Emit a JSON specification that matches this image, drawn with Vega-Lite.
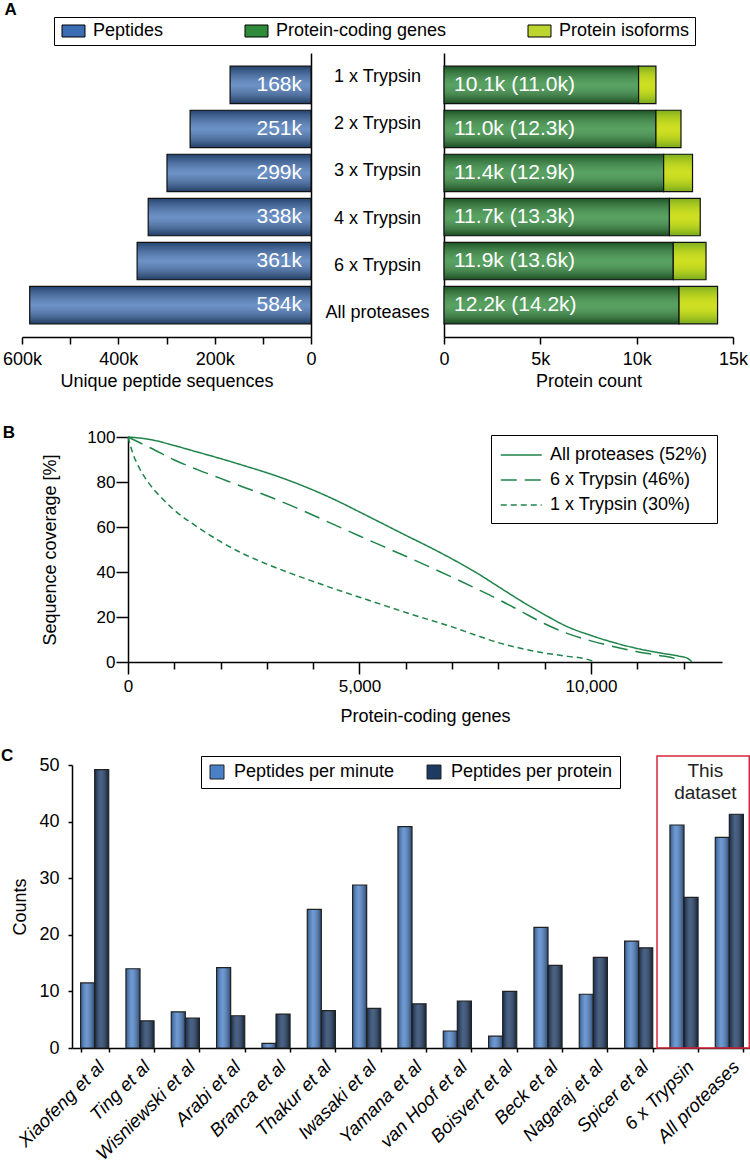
{
  "$schema": "https://vega.github.io/schema/vega-lite/v6.json",
  "padding": {"left": 0, "top": 0, "right": 0, "bottom": 0},
  "background": "white",
  "columns": 1,
  "align": "none",
  "spacing": 34,
  "config": {
    "font": "Liberation Sans",
    "view": {"stroke": null},
    "title": {"fontSize": 17, "fontWeight": "bold", "anchor": "start", "font": "Liberation Sans", "color": "black", "offset": 2},
    "axis": {"domainColor": "black", "tickColor": "black", "labelColor": "black", "titleColor": "black", "labelFont": "Liberation Sans", "titleFont": "Liberation Sans", "labelFontSize": 18, "titleFontSize": 18, "titleFontWeight": "normal", "grid": false, "domainWidth": 1.5, "tickWidth": 1.5, "labelFlush": false},
    "legend": {"labelFont": "Liberation Sans", "labelColor": "black", "labelFontSize": 18, "labelLimit": 400}
  },
  "resolve": {"scale": {"color": "independent", "strokeDash": "independent"}, "legend": {"color": "independent", "strokeDash": "independent"}},
  "concat": [
    {
      "title": {"text": "A", "dx": 2, "dy": 4},
      "data": {"values": [
        {"cat": "1 x Trypsin", "peptides": 168000, "genes": 10100, "total": 11000, "pl": "168k", "gl": "10.1k (11.0k)"},
        {"cat": "2 x Trypsin", "peptides": 251000, "genes": 11000, "total": 12300, "pl": "251k", "gl": "11.0k (12.3k)"},
        {"cat": "3 x Trypsin", "peptides": 299000, "genes": 11400, "total": 12900, "pl": "299k", "gl": "11.4k (12.9k)"},
        {"cat": "4 x Trypsin", "peptides": 338000, "genes": 11700, "total": 13300, "pl": "338k", "gl": "11.7k (13.3k)"},
        {"cat": "6 x Trypsin", "peptides": 361000, "genes": 11900, "total": 13600, "pl": "361k", "gl": "11.9k (13.6k)"},
        {"cat": "All proteases", "peptides": 584000, "genes": 12200, "total": 14200, "pl": "584k", "gl": "12.2k (14.2k)"}
      ]},
      "spacing": 0,
      "bounds": "flush",
      "resolve": {"scale": {"color": "independent"}, "legend": {"color": "independent"}},
      "hconcat": [
        {
          "width": 289,
          "height": 284,
          "encoding": {
            "y": {"field": "cat", "type": "nominal", "sort": null, "scale": {"paddingInner": 0.15, "paddingOuter": 0.3}, "axis": {"orient": "right", "labels": false, "ticks": false, "title": null}},
            "x": {"field": "peptides", "type": "quantitative", "scale": {"domain": [0, 600000], "reverse": true, "nice": false},
                  "axis": {"values": [0, 100000, 200000, 300000, 400000, 500000, 600000], "labelExpr": "datum.value % 200000 === 0 ? (datum.value === 0 ? '0' : (datum.value / 1000) + 'k') : ''", "title": "Unique peptide sequences", "tickSize": 7, "labelPadding": 6, "titlePadding": 4}}
          },
          "layer": [
            {
              "mark": {"type": "bar"},
              "encoding": {
                "color": {"datum": "Peptides", "type": "nominal",
                  "scale": {"domain": ["Peptides", "Protein-coding genes", "Protein isoforms"], "range": ["#3b6db4", "#2e8b3a", "#bcd52f"]},
                  "legend": {"orient": "none", "legendX": 32, "legendY": -36, "direction": "horizontal", "columns": 3, "title": null, "strokeColor": "black", "padding": 5, "columnPadding": 78, "labelOffset": 16, "symbolType": "M-1,-1H2.833V1H-1Z", "symbolSize": 144, "symbolStrokeColor": "black", "symbolStrokeWidth": 1, "symbolOpacity": 1}}
              }
            },
            {
              "mark": {"type": "bar", "fill": {"gradient": "linear", "x1": 0, "y1": 0, "x2": 0, "y2": 1, "stops": [{"offset": 0, "color": "rgba(0,0,0,0.4)"}, {"offset": 0.5, "color": "rgba(255,255,255,0.25)"}, {"offset": 1, "color": "rgba(0,0,0,0.45)"}]}, "stroke": "#111111", "strokeWidth": 1.2}
            },
            {
              "mark": {"type": "text", "align": "right", "baseline": "middle", "dx": -9, "color": "white", "fontSize": 21},
              "encoding": {"x": {"datum": 0, "type": "quantitative"}, "text": {"field": "pl"}}
            }
          ]
        },
        {
          "width": 133,
          "height": 284,
          "mark": {"type": "text", "fontSize": 18, "color": "black", "baseline": "middle"},
          "encoding": {
            "y": {"field": "cat", "type": "nominal", "sort": null, "scale": {"paddingInner": 0.15, "paddingOuter": 0.3}, "axis": null},
            "text": {"field": "cat"}
          }
        },
        {
          "width": 289,
          "height": 284,
          "encoding": {
            "y": {"field": "cat", "type": "nominal", "sort": null, "scale": {"paddingInner": 0.15, "paddingOuter": 0.3}, "axis": {"orient": "left", "labels": false, "ticks": false, "title": null}}
          },
          "layer": [
            {
              "mark": {"type": "bar", "color": "#2e8b3a"},
              "encoding": {"x": {"field": "genes", "type": "quantitative", "scale": {"domain": [0, 15000], "nice": false},
                "axis": {"values": [0, 5000, 10000, 15000], "labelExpr": "datum.value === 0 ? '0' : (datum.value / 1000) + 'k'", "title": "Protein count", "tickSize": 7, "labelPadding": 6, "titlePadding": 4}}}
            },
            {
              "mark": {"type": "bar", "fill": {"gradient": "linear", "x1": 0, "y1": 0, "x2": 0, "y2": 1, "stops": [{"offset": 0, "color": "rgba(0,0,0,0.4)"}, {"offset": 0.5, "color": "rgba(255,255,255,0.2)"}, {"offset": 1, "color": "rgba(0,0,0,0.45)"}]}, "stroke": "#111111", "strokeWidth": 1.2},
              "encoding": {"x": {"field": "genes", "type": "quantitative"}}
            },
            {
              "mark": {"type": "bar", "color": "#c6da2a"},
              "encoding": {"x": {"field": "genes", "type": "quantitative"}, "x2": {"field": "total"}}
            },
            {
              "mark": {"type": "bar", "fill": {"gradient": "linear", "x1": 0, "y1": 0, "x2": 0, "y2": 1, "stops": [{"offset": 0, "color": "rgba(40,120,20,0.45)"}, {"offset": 0.5, "color": "rgba(255,255,0,0.15)"}, {"offset": 1, "color": "rgba(40,120,20,0.5)"}]}, "stroke": "#111111", "strokeWidth": 1.2},
              "encoding": {"x": {"field": "genes", "type": "quantitative"}, "x2": {"field": "total"}}
            },
            {
              "mark": {"type": "text", "align": "left", "baseline": "middle", "dx": 10, "color": "white", "fontSize": 21},
              "encoding": {"x": {"datum": 0, "type": "quantitative"}, "text": {"field": "gl"}}
            }
          ]
        }
      ]
    },
    {
      "columns": 1,
      "align": "none",
      "spacing": 22,
      "resolve": {"scale": {"color": "independent", "strokeDash": "independent"}, "legend": {"color": "independent", "strokeDash": "independent"}},
      "concat": [
        {
          "spacing": 0,
          "bounds": "flush",
          "resolve": {"scale": {"strokeDash": "independent"}, "legend": {"strokeDash": "independent"}},
          "hconcat": [
            {"width": 106, "height": 10, "data": {"values": []}, "mark": {"type": "point", "opacity": 0}},
            {
              "title": {"text": "B", "dx": -39, "dy": 16},
              "width": 594,
              "height": 225,
              "data": {"values": [
                {"series": "All proteases (52%)", "genes": 0, "cov": 100},
                {"series": "All proteases (52%)", "genes": 500, "cov": 98.8},
                {"series": "All proteases (52%)", "genes": 1000, "cov": 96.2},
                {"series": "All proteases (52%)", "genes": 1500, "cov": 93.3},
                {"series": "All proteases (52%)", "genes": 2000, "cov": 90.4},
                {"series": "All proteases (52%)", "genes": 2500, "cov": 87.3},
                {"series": "All proteases (52%)", "genes": 3000, "cov": 84.1},
                {"series": "All proteases (52%)", "genes": 3500, "cov": 80.5},
                {"series": "All proteases (52%)", "genes": 4000, "cov": 76.4},
                {"series": "All proteases (52%)", "genes": 4500, "cov": 71.8},
                {"series": "All proteases (52%)", "genes": 5000, "cov": 66.7},
                {"series": "All proteases (52%)", "genes": 5500, "cov": 61.5},
                {"series": "All proteases (52%)", "genes": 6000, "cov": 56.3},
                {"series": "All proteases (52%)", "genes": 6500, "cov": 51.2},
                {"series": "All proteases (52%)", "genes": 7000, "cov": 45.8},
                {"series": "All proteases (52%)", "genes": 7500, "cov": 40.0},
                {"series": "All proteases (52%)", "genes": 8000, "cov": 33.5},
                {"series": "All proteases (52%)", "genes": 8500, "cov": 27.0},
                {"series": "All proteases (52%)", "genes": 9000, "cov": 21.0},
                {"series": "All proteases (52%)", "genes": 9500, "cov": 15.6},
                {"series": "All proteases (52%)", "genes": 10000, "cov": 11.8},
                {"series": "All proteases (52%)", "genes": 10500, "cov": 8.6},
                {"series": "All proteases (52%)", "genes": 11000, "cov": 6.0},
                {"series": "All proteases (52%)", "genes": 11500, "cov": 4.0},
                {"series": "All proteases (52%)", "genes": 11900, "cov": 2.6},
                {"series": "All proteases (52%)", "genes": 12080, "cov": 1.7},
                {"series": "All proteases (52%)", "genes": 12180, "cov": 0},
                {"series": "6 x Trypsin (46%)", "genes": 0, "cov": 100},
                {"series": "6 x Trypsin (46%)", "genes": 500, "cov": 95.0},
                {"series": "6 x Trypsin (46%)", "genes": 1000, "cov": 89.8},
                {"series": "6 x Trypsin (46%)", "genes": 1500, "cov": 85.5},
                {"series": "6 x Trypsin (46%)", "genes": 2000, "cov": 81.6},
                {"series": "6 x Trypsin (46%)", "genes": 2500, "cov": 77.7},
                {"series": "6 x Trypsin (46%)", "genes": 3000, "cov": 73.9},
                {"series": "6 x Trypsin (46%)", "genes": 3500, "cov": 69.7},
                {"series": "6 x Trypsin (46%)", "genes": 4000, "cov": 65.2},
                {"series": "6 x Trypsin (46%)", "genes": 4500, "cov": 60.6},
                {"series": "6 x Trypsin (46%)", "genes": 5000, "cov": 56.0},
                {"series": "6 x Trypsin (46%)", "genes": 5500, "cov": 51.5},
                {"series": "6 x Trypsin (46%)", "genes": 6000, "cov": 47.0},
                {"series": "6 x Trypsin (46%)", "genes": 6500, "cov": 42.4},
                {"series": "6 x Trypsin (46%)", "genes": 7000, "cov": 37.7},
                {"series": "6 x Trypsin (46%)", "genes": 7500, "cov": 32.8},
                {"series": "6 x Trypsin (46%)", "genes": 8000, "cov": 27.8},
                {"series": "6 x Trypsin (46%)", "genes": 8500, "cov": 22.4},
                {"series": "6 x Trypsin (46%)", "genes": 9000, "cov": 17.0},
                {"series": "6 x Trypsin (46%)", "genes": 9500, "cov": 12.6},
                {"series": "6 x Trypsin (46%)", "genes": 10000, "cov": 9.4},
                {"series": "6 x Trypsin (46%)", "genes": 10500, "cov": 6.8},
                {"series": "6 x Trypsin (46%)", "genes": 11000, "cov": 4.6},
                {"series": "6 x Trypsin (46%)", "genes": 11500, "cov": 2.8},
                {"series": "6 x Trypsin (46%)", "genes": 11800, "cov": 1.6},
                {"series": "6 x Trypsin (46%)", "genes": 11920, "cov": 0},
                {"series": "1 x Trypsin (30%)", "genes": 0, "cov": 100},
                {"series": "1 x Trypsin (30%)", "genes": 100, "cov": 93.0},
                {"series": "1 x Trypsin (30%)", "genes": 250, "cov": 86.0},
                {"series": "1 x Trypsin (30%)", "genes": 450, "cov": 79.5},
                {"series": "1 x Trypsin (30%)", "genes": 700, "cov": 73.5},
                {"series": "1 x Trypsin (30%)", "genes": 1000, "cov": 67.5},
                {"series": "1 x Trypsin (30%)", "genes": 1500, "cov": 60.0},
                {"series": "1 x Trypsin (30%)", "genes": 2000, "cov": 53.5},
                {"series": "1 x Trypsin (30%)", "genes": 2500, "cov": 48.0},
                {"series": "1 x Trypsin (30%)", "genes": 3000, "cov": 43.5},
                {"series": "1 x Trypsin (30%)", "genes": 3500, "cov": 39.5},
                {"series": "1 x Trypsin (30%)", "genes": 4000, "cov": 35.8},
                {"series": "1 x Trypsin (30%)", "genes": 4500, "cov": 32.2},
                {"series": "1 x Trypsin (30%)", "genes": 5000, "cov": 28.8},
                {"series": "1 x Trypsin (30%)", "genes": 5500, "cov": 25.4},
                {"series": "1 x Trypsin (30%)", "genes": 6000, "cov": 22.0},
                {"series": "1 x Trypsin (30%)", "genes": 6500, "cov": 18.8},
                {"series": "1 x Trypsin (30%)", "genes": 7000, "cov": 15.6},
                {"series": "1 x Trypsin (30%)", "genes": 7500, "cov": 12.0},
                {"series": "1 x Trypsin (30%)", "genes": 8000, "cov": 8.6},
                {"series": "1 x Trypsin (30%)", "genes": 8500, "cov": 6.0},
                {"series": "1 x Trypsin (30%)", "genes": 9000, "cov": 4.0},
                {"series": "1 x Trypsin (30%)", "genes": 9500, "cov": 2.5},
                {"series": "1 x Trypsin (30%)", "genes": 9900, "cov": 1.3},
                {"series": "1 x Trypsin (30%)", "genes": 10080, "cov": 0}
              ]},
              "mark": {"type": "line", "color": "#1e8449", "strokeWidth": 1.5, "interpolate": "monotone"},
              "encoding": {
                "x": {"field": "genes", "type": "quantitative", "scale": {"domain": [0, 12830], "nice": false},
                      "axis": {"values": [0, 1000, 2000, 3000, 4000, 5000, 6000, 7000, 8000, 9000, 10000, 11000, 12000], "labelExpr": "datum.value % 5000 === 0 ? format(datum.value, ',') : ''", "title": "Protein-coding genes", "tickSize": {"condition": {"test": "datum.value % 5000 === 0", "value": 12}, "value": 7}, "labelFontSize": 17, "labelPadding": 4, "titlePadding": 13}},
                "y": {"field": "cov", "type": "quantitative", "scale": {"domain": [0, 100], "nice": false},
                      "axis": {"values": [0, 20, 40, 60, 80, 100], "tickSize": 12, "labelPadding": 1, "labelFontSize": 17, "title": "Sequence coverage [%]", "titlePadding": 27}},
                "strokeDash": {"field": "series", "type": "nominal",
                  "scale": {"domain": ["All proteases (52%)", "6 x Trypsin (46%)", "1 x Trypsin (30%)"], "range": [[1, 0], [16, 8], [6, 4]]},
                  "legend": {"orient": "none", "legendX": 363, "legendY": -2, "title": null, "strokeColor": "black", "padding": 9, "symbolType": "M-1,0H3", "symbolSize": 420, "symbolStrokeColor": "#1e8449", "symbolStrokeWidth": 1.5, "labelOffset": 28, "rowPadding": 5}}
              }
            }
          ]
        },
        {
          "spacing": 0,
          "bounds": "flush",
          "resolve": {"scale": {"color": "independent"}, "legend": {"color": "independent"}},
          "hconcat": [
            {"width": 50, "height": 10, "data": {"values": []}, "mark": {"type": "point", "opacity": 0}},
            {
              "title": {"text": "C", "dx": -11, "dy": 12},
              "width": 680,
              "height": 283,
              "layer": [
                {
                  "data": {"values": [
                    {"study": "Xiaofeng et al", "metric": "Peptides per minute", "value": 11.5},
                    {"study": "Xiaofeng et al", "metric": "Peptides per protein", "value": 49.2},
                    {"study": "Ting et al", "metric": "Peptides per minute", "value": 14.0},
                    {"study": "Ting et al", "metric": "Peptides per protein", "value": 4.8},
                    {"study": "Wisniewski et al", "metric": "Peptides per minute", "value": 6.4},
                    {"study": "Wisniewski et al", "metric": "Peptides per protein", "value": 5.3},
                    {"study": "Arabi et al", "metric": "Peptides per minute", "value": 14.2},
                    {"study": "Arabi et al", "metric": "Peptides per protein", "value": 5.7},
                    {"study": "Branca et al", "metric": "Peptides per minute", "value": 0.8},
                    {"study": "Branca et al", "metric": "Peptides per protein", "value": 6.0},
                    {"study": "Thakur et al", "metric": "Peptides per minute", "value": 24.5},
                    {"study": "Thakur et al", "metric": "Peptides per protein", "value": 6.6},
                    {"study": "Iwasaki et al", "metric": "Peptides per minute", "value": 28.8},
                    {"study": "Iwasaki et al", "metric": "Peptides per protein", "value": 7.0},
                    {"study": "Yamana et al", "metric": "Peptides per minute", "value": 39.1},
                    {"study": "Yamana et al", "metric": "Peptides per protein", "value": 7.8},
                    {"study": "van Hoof et al", "metric": "Peptides per minute", "value": 3.0},
                    {"study": "van Hoof et al", "metric": "Peptides per protein", "value": 8.3},
                    {"study": "Boisvert et al", "metric": "Peptides per minute", "value": 2.1},
                    {"study": "Boisvert et al", "metric": "Peptides per protein", "value": 10.0},
                    {"study": "Beck et al", "metric": "Peptides per minute", "value": 21.3},
                    {"study": "Beck et al", "metric": "Peptides per protein", "value": 14.6},
                    {"study": "Nagaraj et al", "metric": "Peptides per minute", "value": 9.5},
                    {"study": "Nagaraj et al", "metric": "Peptides per protein", "value": 16.0},
                    {"study": "Spicer et al", "metric": "Peptides per minute", "value": 18.9},
                    {"study": "Spicer et al", "metric": "Peptides per protein", "value": 17.7},
                    {"study": "6 x Trypsin", "metric": "Peptides per minute", "value": 39.4},
                    {"study": "6 x Trypsin", "metric": "Peptides per protein", "value": 26.6},
                    {"study": "All proteases", "metric": "Peptides per minute", "value": 37.2},
                    {"study": "All proteases", "metric": "Peptides per protein", "value": 41.3}
                  ]},
                  "layer": [
                    {
                      "mark": {"type": "bar"},
                      "encoding": {
                        "color": {"field": "metric", "type": "nominal", "scale": {"domain": ["Peptides per minute", "Peptides per protein"], "range": ["#4a80c8", "#1d3a63"]},
                          "legend": {"orient": "none", "legendX": 129, "legendY": -9, "direction": "horizontal", "columns": 2, "title": null, "strokeColor": "black", "padding": 7, "columnPadding": 30, "labelOffset": 8, "symbolType": "square", "symbolSize": 196, "symbolStrokeColor": "#222222", "symbolStrokeWidth": 1, "symbolOpacity": 1}}
                      }
                    },
                    {
                      "mark": {"type": "bar", "fill": {"gradient": "linear", "x1": 0, "y1": 0, "x2": 1, "y2": 0, "stops": [{"offset": 0, "color": "rgba(0,0,0,0.3)"}, {"offset": 0.4, "color": "rgba(255,255,255,0.2)"}, {"offset": 1, "color": "rgba(0,0,0,0.45)"}]}, "stroke": "#222222", "strokeWidth": 1.2}
                    }
                  ],
                  "encoding": {
                    "x": {"field": "study", "type": "nominal", "sort": null,
                          "scale": {"domain": ["Xiaofeng et al", "Ting et al", "Wisniewski et al", "Arabi et al", "Branca et al", "Thakur et al", "Iwasaki et al", "Yamana et al", "van Hoof et al", "Boisvert et al", "Beck et al", "Nagaraj et al", "Spicer et al", "6 x Trypsin", "All proteases"], "paddingInner": 0.38, "paddingOuter": 0.19},
                          "axis": {"tickBand": "extent", "labelAngle": -45, "tickSize": 4, "labelPadding": 5, "title": null, "labelFontStyle": "italic", "labelFontSize": 18.5, "labelLimit": 300}},
                    "xOffset": {"field": "metric", "type": "nominal", "sort": ["Peptides per minute", "Peptides per protein"], "scale": {"paddingInner": 0}},
                    "y": {"field": "value", "type": "quantitative", "scale": {"domain": [0, 50], "nice": false},
                          "axis": {"values": [0, 10, 20, 30, 40, 50], "tickSize": 4, "labelPadding": 9, "title": "Counts", "titlePadding": 9}}
                  }
                },
                {
                  "data": {"values": [{"c1": "6 x Trypsin", "c2": "All proteases", "top": 51.6, "bottom": 0}]},
                  "mark": {"type": "rect", "fillOpacity": 0, "stroke": "#d7263d", "strokeWidth": 1.5, "clip": false},
                  "encoding": {
                    "x": {"field": "c1", "type": "nominal", "bandPosition": -0.46},
                    "x2": {"field": "c2", "bandPosition": 1.21},
                    "y": {"field": "top", "type": "quantitative"},
                    "y2": {"field": "bottom"}
                  }
                },
                {
                  "data": {"values": [{"c1": "6 x Trypsin", "t": ["This", "dataset"], "ty": 50.6}]},
                  "mark": {"type": "text", "align": "center", "baseline": "top", "fontSize": 19, "lineHeight": 22, "color": "#222222"},
                  "encoding": {
                    "x": {"field": "c1", "type": "nominal", "bandPosition": 1.26},
                    "y": {"field": "ty", "type": "quantitative"},
                    "text": {"field": "t"}
                  }
                }
              ]
            }
          ]
        }
      ]
    }
  ]
}
